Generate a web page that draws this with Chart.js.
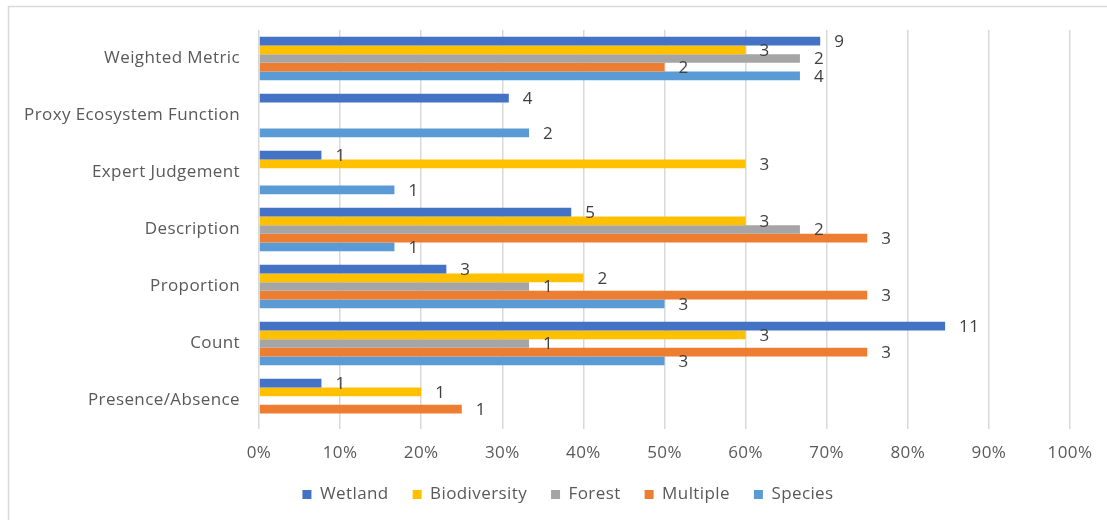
<!DOCTYPE html>
<html>
<head>
<meta charset="utf-8">
<script src="https://cdn.jsdelivr.net/npm/chart.js@4"></script>
<style>
  html, body { margin: 0; padding: 0; background: #ffffff; }
  #wrap { position: relative; width: 1107px; height: 520px; }
</style>
</head>
<body>
<div id="wrap"><canvas id="c"></canvas></div>
<script>
// ---- Data ----
const categories = ["Weighted Metric", "Proxy Ecosystem Function", "Expert Judgement", "Description", "Proportion", "Count", "Presence/Absence"];
const seriesNames = ["Wetland", "Biodiversity", "Forest", "Multiple", "Species"];

// share of studies (%)
const wetland      = [69.2, 30.8, 7.7, 38.5, 23.1, 84.6, 7.7];
const biodiversity = [60, null, 60, 60, 40, 60, 20];
const forest       = [66.7, null, null, 66.7, 33.3, 33.3, null];
const multiple     = [50, null, null, 75, 75, 75, 25];
const species      = [66.7, 33.3, 16.7, 16.7, 50, 50, null];

// counts shown as data labels
const wetlandCounts      = [9, 4, 1, 5, 3, 11, 1];
const biodiversityCounts = [3, null, 3, 3, 2, 3, 1];
const forestCounts       = [2, null, null, 2, 1, 1, null];
const multipleCounts     = [2, null, null, 3, 3, 3, 1];
const speciesCounts      = [4, 2, 1, 1, 3, 3, null];

const xTicks = [0, 10, 20, 30, 40, 50, 60, 70, 80, 90, 100];

const colors = ["#4472C4", "#FFC000", "#A5A5A5", "#ED7D31", "#5B9BD5"];
const seriesValues = [wetland, biodiversity, forest, multiple, species];
const seriesCounts = [wetlandCounts, biodiversityCounts, forestCounts, multipleCounts, speciesCounts];

const FONT = "'Open Sans', 'Noto Sans', sans-serif";
const SPACING = '0.4px';

const datasets = seriesNames.map((name, i) => ({
  label: name,
  data: seriesValues[i],
  counts: seriesCounts[i],
  backgroundColor: colors[i],
  borderWidth: 0,
  categoryPercentage: 0.76,
  barPercentage: 1.0
}));

const spacingPlugin = {
  id: 'spacing',
  beforeUpdate(chart) { chart.ctx.letterSpacing = SPACING; },
  beforeLayout(chart) { chart.ctx.letterSpacing = SPACING; },
  beforeDraw(chart) { chart.ctx.letterSpacing = SPACING; }
};

// nudge the legend box to its place in the reference
const legendShiftPlugin = {
  id: 'legendShift',
  afterLayout(chart) {
    const lg = chart.legend;
    if (!lg) return;
    const dx = 33, dy = -7;
    lg.left += dx; lg.right += dx;
    lg.top += dy; lg.bottom += dy;
  }
};

const labelPlugin = {
  id: 'countLabels',
  afterDatasetsDraw(chart) {
    const ctx = chart.ctx;
    ctx.save();
    ctx.font = "17px " + FONT;
    ctx.fillStyle = "#404040";
    ctx.textAlign = "left";
    ctx.textBaseline = "middle";
    chart.data.datasets.forEach((ds, i) => {
      const meta = chart.getDatasetMeta(i);
      meta.data.forEach((el, j) => {
        const v = ds.data[j];
        const c = ds.counts[j];
        if (v === null || c === null || c === undefined) return;
        ctx.fillText(String(c), el.x + 14, el.y + 1);
      });
    });
    ctx.restore();
  }
};

const framePlugin = {
  id: 'frame',
  beforeDraw(chart) {
    const ctx = chart.ctx;
    ctx.save();
    ctx.fillStyle = "#ffffff";
    ctx.fillRect(0, 0, chart.width, chart.height);
    ctx.strokeStyle = "#D9D9D9";
    ctx.lineWidth = 1.5;
    ctx.beginPath();
    ctx.moveTo(8.5, chart.height);
    ctx.lineTo(8.5, 6.5);
    ctx.lineTo(chart.width, 6.5);
    ctx.stroke();
    ctx.restore();
  }
};

new Chart(document.getElementById('c'), {
  type: 'bar',
  data: { labels: categories, datasets: datasets },
  plugins: [spacingPlugin, legendShiftPlugin, framePlugin, labelPlugin],
  options: {
    indexAxis: 'y',
    responsive: true,
    maintainAspectRatio: false,
    animation: false,
    layout: { padding: { left: 0, right: 37, top: 30, bottom: 0 } },
    scales: {
      x: {
        min: 0,
        max: 100,
        afterBuildTicks(scale) { scale.ticks = xTicks.map(v => ({ value: v })); },
        afterFit(scale) { scale.height = 40; },
        ticks: {
          callback: v => v + '%',
          font: { family: FONT, size: 17 },
          color: '#595959',
          padding: 14,
          maxRotation: 0
        },
        grid: { color: '#D9D9D9', lineWidth: 1.5, drawTicks: false },
        border: { display: false }
      },
      y: {
        afterFit(scale) { scale.width = 259; },
        ticks: {
          font: { family: FONT, size: 17 },
          color: '#595959',
          padding: 19
        },
        grid: { display: false, drawTicks: false },
        border: { display: false }
      }
    },
    plugins: {
      legend: {
        position: 'bottom',
        labels: {
          font: { family: FONT, size: 17 },
          color: '#595959',
          boxWidth: 9,
          boxHeight: 9,
          padding: 24
        }
      },
      tooltip: { enabled: false }
    }
  }
});
</script>
</body>
</html>
